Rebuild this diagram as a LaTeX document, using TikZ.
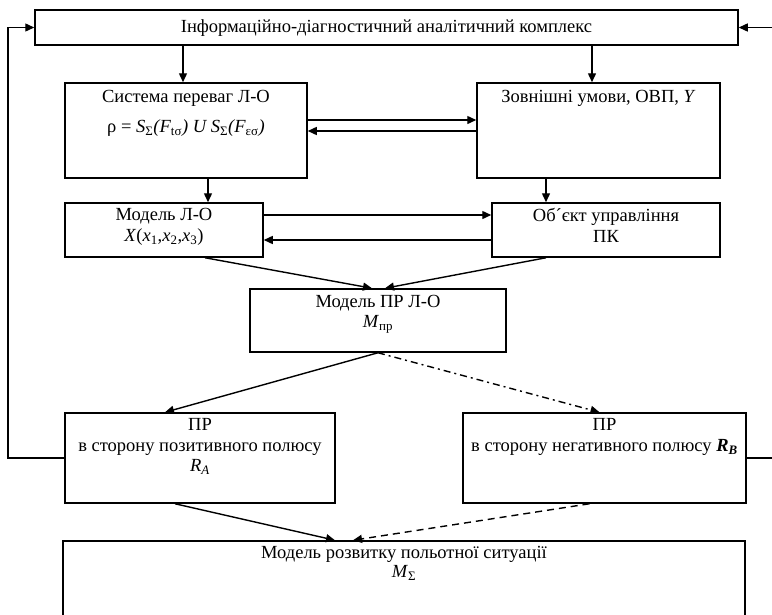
\documentclass[tikz,border=0pt]{standalone}
\usepackage{fontspec}
\setmainfont{Liberation Serif}
\usetikzlibrary{arrows.meta}
\begin{document}
\begin{tikzpicture}[x=1pt,y=-1pt,
  box/.style={draw, line width=1.5pt, inner sep=0pt, minimum width=#1},
  lbl/.style={anchor=north, align=center, inner sep=0pt, font=\fontsize{18.5}{21}\selectfont},
  arr/.style={line width=1.4pt, -{Triangle[length=9pt,width=8pt]}},
  plain/.style={line width=1.4pt},
  dashdot/.style={arr, dash pattern=on 7pt off 4pt on 2pt off 4pt},
  dash2/.style={arr, dash pattern=on 7pt off 5pt}]
\useasboundingbox (0,0) rectangle (772,614);
\clip (0,0) rectangle (772,614);

% boxes
\node[box=703, minimum height=35] (top) at (386.5,27.5) {};
\node[box=242, minimum height=95] (sys) at (186,130.5) {};
\node[box=243, minimum height=95] (ext) at (598.5,130.5) {};
\node[box=198, minimum height=54] (mlo) at (164,230) {};
\node[box=228, minimum height=54] (obj) at (606,230) {};
\node[box=256, minimum height=63] (mpr) at (378,320.5) {};
\node[box=270, minimum height=90] (pra) at (200,458) {};
\node[box=283, minimum height=90] (prb) at (604.5,458) {};
\node[box=682, minimum height=110] (ms) at (404,596) {};

% texts
\node[lbl] (topT) at ([yshift=-10]top.north) {Інформаційно-діагностичний аналітичний комплекс};
\node[lbl] (sysT) at ([yshift=-8]sys.north) {Система переваг Л-О\\[9pt]ρ = \textit{S}\textsubscript{Σ}\textit{(F}\textsubscript{tσ}\textit{) U S}\textsubscript{Σ}\textit{(F}\textsubscript{εσ}\textit{)}};
\node[lbl] (extT) at ([yshift=-8]ext.north) {Зовнішні умови, ОВП, \textit{Y}};
\node[lbl] (mloT) at ([yshift=-6]mlo.north) {Модель Л-О\\\textit{X}(\textit{x}\textsubscript{1},\textit{x}\textsubscript{2},\textit{x}\textsubscript{3})};
\node[lbl] (objT) at ([yshift=-6]obj.north) {Об´єкт управління\\ПК};
\node[lbl] (mprT) at ([yshift=-7]mpr.north) {Модель ПР Л-О\\[-1pt]\textit{M}\textsubscript{пр}};
\node[lbl] (praT) at ([yshift=-6]pra.north) {ПР\\в сторону позитивного полюсу\\[-1pt]\textit{R}\textsubscript{\textit{A}}};
\node[lbl] (prbT) at ([yshift=-6]prb.north) {ПР\\в сторону негативного полюсу \textbf{\textit{R}\textsubscript{\textit{B}}}};
\node[lbl] (msT) at ([yshift=-6]ms.north) {Модель розвитку польотної ситуації\\[-2pt]\textit{M}\textsubscript{Σ}};

% helper positions
\coordinate (xl) at (8,0);
\coordinate (xr) at (772,0);
\coordinate (x183) at (183,0);
\coordinate (x592) at (592,0);
\coordinate (x208) at (208,0);
\coordinate (x546) at (546,0);
\coordinate (y120) at (0,120);
\coordinate (y131) at (0,131);
\coordinate (y215) at (0,215);
\coordinate (y240) at (0,240);

% connectors
\draw[arr] (top.south -| x183) -- (sys.north -| x183);
\draw[arr] (top.south -| x592) -- (ext.north -| x592);
\draw[arr] (sys.east |- y120) -- (ext.west |- y120);
\draw[arr] (ext.west |- y131) -- (sys.east |- y131);
\draw[arr] (sys.south -| x208) -- (mlo.north -| x208);
\draw[arr] (ext.south -| x546) -- (obj.north -| x546);
\draw[arr] (mlo.east |- y215) -- (obj.west |- y215);
\draw[arr] (obj.west |- y240) -- (mlo.east |- y240);
\draw[arr] ([xshift=41]mlo.south) -- ([xshift=-6]mpr.north);
\draw[arr] ([xshift=-60]obj.south) -- ([xshift=7]mpr.north);
\draw[arr] (mpr.south) -- ([xshift=-35]pra.north);
\draw[dashdot] (mpr.south) -- ([xshift=-5]prb.north);
\draw[arr] ([xshift=-25]pra.south) -- ([xshift=-69]ms.north);
\draw[dash2] ([xshift=-15]prb.south) -- ([xshift=-51]ms.north);

% feedback loops
\draw[arr] (pra.west) -- (pra.west -| xl) |- (top.west);
\draw[plain] (prb.east) -- (prb.east -| xr);
\draw[arr] (top.east -| xr) -- (top.east);
\end{tikzpicture}
\end{document}
